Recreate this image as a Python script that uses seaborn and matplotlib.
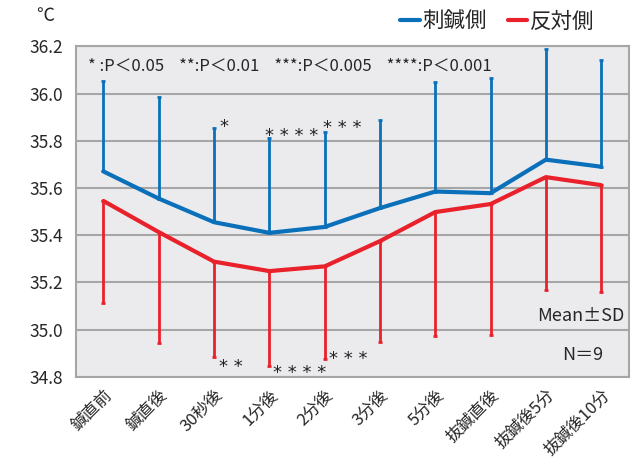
import numpy as np
import pandas as pd
import matplotlib.pyplot as plt
import seaborn as sns

# 時点ラベル
times = ['鍼直前', '鍼直後', '30秒後', '1分後', '2分後', '3分後', '5分後',
         '抜鍼直後', '抜鍼後5分', '抜鍼後10分']
# 刺鍼側 (平均, SD)
needle_mean = [35.67, 35.555, 35.455, 35.41, 35.435, 35.515, 35.585, 35.578, 35.72, 35.69]
needle_sd = [0.385, 0.43, 0.40, 0.40, 0.40, 0.375, 0.465, 0.487, 0.47, 0.45]
# 反対側 (平均, SD)
opp_mean = [35.545, 35.413, 35.288, 35.248, 35.268, 35.375, 35.498, 35.532, 35.646, 35.612]
opp_sd = [0.432, 0.47, 0.404, 0.402, 0.392, 0.427, 0.525, 0.554, 0.478, 0.452]

blue = '#0A70BA'
red = '#E8212B'

sns.set_theme(style='white')
plt.rcParams['font.family'] = ['Noto Sans CJK JP', 'DejaVu Sans']

df = pd.DataFrame({
    'x': list(range(len(times))) * 2,
    'temp': needle_mean + opp_mean,
    'side': ['刺鍼側'] * len(times) + ['反対側'] * len(times),
})

fig = plt.figure(figsize=(6.32, 4.63), dpi=100)
ax = fig.add_axes([0.120, 0.186, 0.875, 0.714])
ax.set_facecolor('#EBEBEE')

x = np.arange(len(times))
# 片側エラーバー: 刺鍼側は上, 反対側は下
ax.errorbar(x, needle_mean, yerr=[np.zeros(len(x)), needle_sd], fmt='none',
            ecolor=blue, elinewidth=2, capsize=1.5, capthick=2, zorder=2)
ax.errorbar(x, opp_mean, yerr=[opp_sd, np.zeros(len(x))], fmt='none',
            ecolor=red, elinewidth=2, capsize=1.5, capthick=2, zorder=2)

sns.lineplot(data=df, x='x', y='temp', hue='side', palette=[blue, red],
             linewidth=3, ax=ax, zorder=3, legend=False)

ax.set_ylim(34.8, 36.2)
ax.set_yticks(np.arange(34.8, 36.21, 0.2))
ax.set_yticklabels([f'{v:.1f}' for v in np.arange(34.8, 36.21, 0.2)], fontsize=12.5)
ax.set_xlim(-0.5, len(times) - 0.5)
ax.set_xticks(x)
ax.set_xticklabels(times, rotation=45, ha='right', rotation_mode='anchor', fontsize=12)
ax.set_xticks(np.arange(-0.5, len(times), 1), minor=True)
ax.tick_params(axis='x', which='major', length=0, pad=7)
ax.tick_params(axis='x', which='minor', length=5, color='#A0A0A0', width=1.5)
ax.tick_params(axis='y', length=5, color='#A0A0A0', width=1.5, pad=4)
ax.set_xlabel('')
ax.set_ylabel('')
ax.grid(axis='y', color='#A6A6A6', linewidth=1.5)
ax.set_axisbelow(True)
for s in ['left', 'bottom', 'right', 'top']:
    ax.spines[s].set_color('#A6A6A6')
    ax.spines[s].set_linewidth(1.5)

# 有意差表示
ax.text(0.022, 0.94, '* :P＜0.05    **:P＜0.01    ***:P＜0.005    ****:P＜0.001',
        transform=ax.transAxes, fontsize=12, va='center')
star = dict(fontsize=13, family='DejaVu Sans', va='center', color='#222222')
ax.text(2.1, 35.86, '*', **star)
ax.text(2.92, 35.82, '* * * *', **star)
ax.text(3.97, 35.855, '* * *', **star)
ax.text(2.08, 34.84, '* *', **star)
ax.text(3.07, 34.815, '* * * *', **star)
ax.text(4.07, 34.875, '* * *', **star)
ax.text(0.993, 0.184, 'Mean±SD', transform=ax.transAxes, fontsize=13, ha='right', va='center')
ax.text(0.953, 0.066, 'N＝9', transform=ax.transAxes, fontsize=13, ha='right', va='center')

fig.text(0.058, 0.955, '℃', fontsize=13)

handles = [plt.Line2D([], [], color=blue, lw=3), plt.Line2D([], [], color=red, lw=3)]
fig.legend(handles, ['刺鍼側', '反対側'], loc='upper right', bbox_to_anchor=(0.957, 1.0),
           borderaxespad=0.1, ncol=2, frameon=False, fontsize=15.5, handlelength=0.9,
           handletextpad=0.1, columnspacing=1.0)

fig.savefig('out.png', dpi=100)
